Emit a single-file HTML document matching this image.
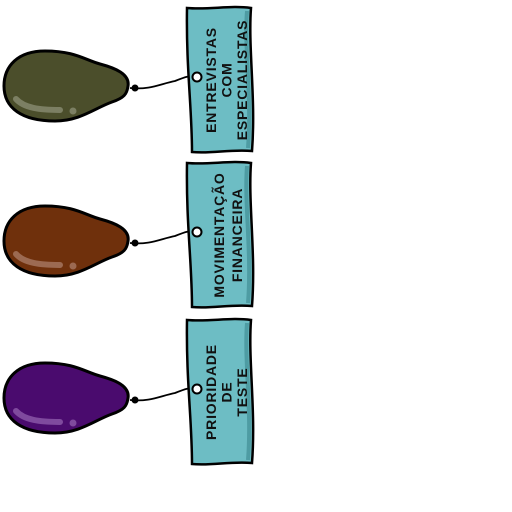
<!DOCTYPE html>
<html><head><meta charset="utf-8"><style>
html,body{margin:0;padding:0;background:#fff;width:512px;height:512px;overflow:hidden}
text{font-family:"Liberation Sans",sans-serif;font-weight:bold;font-size:14px;fill:#111;letter-spacing:0.8px}
</style></head><body>
<svg width="512" height="512" viewBox="0 0 512 512">
<g id="root"></g>
</svg>
<script>
const labels=[["ENTREVISTAS","COM","ESPECIALISTAS"],["MOVIMENTAÇÃO","FINANCEIRA"],["PRIORIDADE","DE","TESTE"]];
const colors=["#4b4e2b","#6f300c","#4a0b6e"];
const hilite=["#7c7f63","#9c6a52","#7f4a9e"];
const balloonY=[86,241,398];
const tagTop=[8,163,320];
const NS="http://www.w3.org/2000/svg";
const root=document.getElementById('root');
function mk(t,a){const e=document.createElementNS(NS,t);for(const k in a)e.setAttribute(k,a[k]);return e;}
labels.forEach((lines,i)=>{
  const g=mk('g',{});
  
  
  const cy=balloonY[i], tt=tagTop[i];
  const b=mk('path',{d:`M128,${cy} C130,${cy-12} 115,${cy-18} 100,${cy-22} C85,${cy-26} 75,${cy-35} 45,${cy-35} C18,${cy-35} 4,${cy-20} 4,${cy} C4,${cy+22} 22,${cy+35} 55,${cy+35} C80,${cy+35} 95,${cy+22} 112,${cy+16} C124,${cy+12} 127,${cy+8} 128,${cy} Z`,fill:colors[i],stroke:'#000','stroke-width':3});
  
  
  g.appendChild(b);
  g.appendChild(mk('path',{d:`M16,${cy+13} C24,${cy+22} 40,${cy+24} 60,${cy+24}`,stroke:hilite[i],'stroke-width':6,fill:'none','stroke-linecap':'round'}));
  g.appendChild(mk('circle',{cx:73,cy:cy+25,r:3.5,fill:hilite[i]}));
  const hy=tt+69;
  g.appendChild(mk('path',{d:`M130,${cy+2} C150,${cy+4} 160,${cy-2} 175,${hy+4} C185,${hy} 190,${hy-2} 197,${hy}`,stroke:'#000','stroke-width':1.8,fill:'none'}));
  g.appendChild(mk('circle',{cx:135,cy:cy+2,r:3.5,fill:'#000'}));
  const tag=mk('path',{d:`M187,${tt} C210,${tt+2} 230,${tt-3} 251,${tt} C248,${tt+40} 256,${tt+90} 252,${tt+143} C230,${tt+141} 212,${tt+146} 192,${tt+144} C192,${tt+100} 186,${tt+60} 187,${tt} Z`,fill:'#6dbdc4',stroke:'#000','stroke-width':2.5});
  
  
  g.appendChild(tag);
  g.appendChild(mk('path',{d:`M247,${tt+3} C244,${tt+40} 252,${tt+90} 248,${tt+140}`,stroke:'#4e9ca3','stroke-width':4,fill:'none'}));
  g.appendChild(mk('circle',{cx:197,cy:hy,r:4.5,fill:'#fff',stroke:'#000','stroke-width':2}));
  const n=lines.length, mid=tt+72;
  const step=n===2?18:15.5, cx=n===2?228:226.5;
  lines.forEach((l,j)=>{
    const x=cx+(j-(n-1)/2)*step;
    const t=mk('text',{x:0,y:0,'text-anchor':'middle',transform:`translate(${x+5},${mid}) rotate(-90)`});
    t.textContent=l;
    
    
    g.appendChild(t);
  });
  root.appendChild(g);
});
</script>
</body></html>
